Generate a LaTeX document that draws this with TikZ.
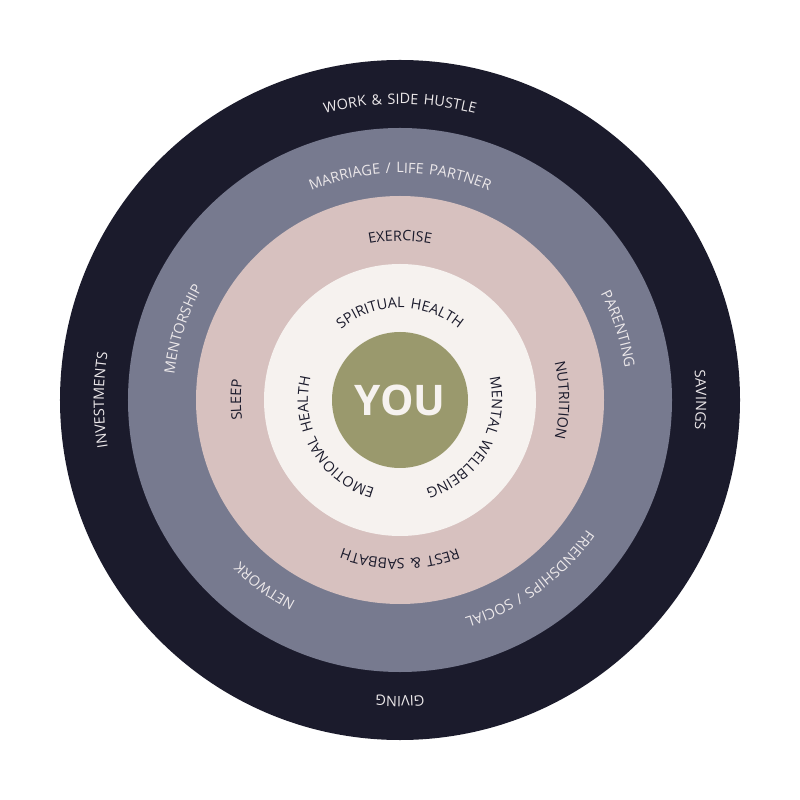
\documentclass[tikz,border=0pt]{standalone}
\usepackage{fontspec}
\setmainfont{Open Sans}
\newfontfamily\ringfont[LetterSpace=11,Scale=0.82]{Open Sans}
\usetikzlibrary{decorations.text}

\definecolor{navy}{HTML}{1B1B2C}
\definecolor{slate}{HTML}{777A8F}
\definecolor{blush}{HTML}{D7C1BF}
\definecolor{cream}{HTML}{F6F2EF}
\definecolor{olive}{HTML}{9A996D}
\definecolor{paletext}{HTML}{ECE8EA}

\tikzstyle{lightlabel}=[decorate, decoration={text along path, text align=center, text color=paletext}]
\tikzstyle{darklabel}=[decorate, decoration={text along path, text align=center, text color=navy}]

\begin{document}
\ringfont
\begin{tikzpicture}[x=0.02cm, y=0.02cm]
    \useasboundingbox[fill=white] (-400,-400) rectangle (400,400);
    % rings
    \fill[navy] (0,0) circle[radius=340];
    \fill[slate] (0,0) circle[radius=272];
    \fill[blush] (0,0) circle[radius=204];
    \fill[cream] (0,0) circle[radius=136];
    \fill[olive] (0,0) circle[radius=68];
    \node[font=\normalfont\fontsize{24}{28}\selectfont\bfseries, text=cream] (you) at (0,0) {YOU};

    % outer ring
    \path[lightlabel, decoration={text={WORK {\&} SIDE HUSTLE}}] (180:296) arc[start angle=180, end angle=0, radius=296];
    \path[lightlabel, decoration={text={SAVINGS}}] (90:296) arc[start angle=90, end angle=-90, radius=296];
    \path[lightlabel, decoration={text={GIVING}}] (0:296) arc[start angle=0, end angle=-180, radius=296];
    \path[lightlabel, decoration={text={INVESTMENTS}}] (270:296) arc[start angle=270, end angle=90, radius=296];

    % second ring
    \path[lightlabel, decoration={text={MARRIAGE / LIFE PARTNER}}] (180:227) arc[start angle=180, end angle=0, radius=227];
    \path[lightlabel, decoration={text={PARENTING}}] (108:227) arc[start angle=108, end angle=-72, radius=227];
    \path[lightlabel, decoration={text={FRIENDSHIPS / SOCIAL}}] (36:227) arc[start angle=36, end angle=-144, radius=227];
    \path[lightlabel, decoration={text={NETWORK}}] (-36:227) arc[start angle=-36, end angle=-216, radius=227];
    \path[lightlabel, decoration={text={MENTORSHIP}}] (252:227) arc[start angle=252, end angle=72, radius=227];

    % third ring
    \path[darklabel, decoration={text={EXERCISE}}] (180:159) arc[start angle=180, end angle=0, radius=159];
    \path[darklabel, decoration={text={NUTRITION}}] (90:159) arc[start angle=90, end angle=-90, radius=159];
    \path[darklabel, decoration={text={REST {\&} SABBATH}}] (0:159) arc[start angle=0, end angle=-180, radius=159];
    \path[darklabel, decoration={text={SLEEP}}] (270:159) arc[start angle=270, end angle=90, radius=159];

    % inner ring
    \path[darklabel, decoration={text={SPIRITUAL HEALTH}}] (180:92) arc[start angle=180, end angle=0, radius=92];
    \path[darklabel, decoration={text={MENTAL WELLBEING}}] (60:92) arc[start angle=60, end angle=-120, radius=92];
    \path[darklabel, decoration={text={EMOTIONAL HEALTH}}] (300:92) arc[start angle=300, end angle=120, radius=92];
\end{tikzpicture}
\end{document}
